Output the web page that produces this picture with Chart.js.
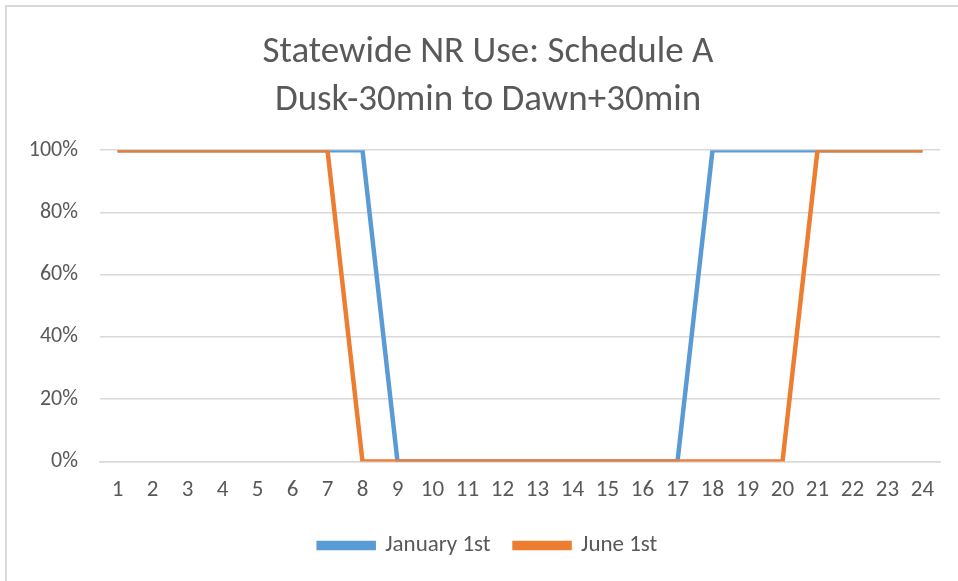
<!DOCTYPE html>
<html>
<head>
<meta charset="utf-8">
<script src="https://cdn.jsdelivr.net/npm/chart.js@4/dist/chart.umd.min.js"></script>
<style>
  body { margin: 0; background: #fff; overflow: hidden; }
  #box {
    position: absolute; left: 5px; top: 5px;
    width: 977px; height: 576px;
    border-left: 2px solid #d9d9d9;
    border-top: 2px solid #d9d9d9;
  }
</style>
</head>
<body>
<div id="box"><canvas id="myChart"></canvas></div>
<script>
// DATA
var ore = ['1','2','3','4','5','6','7','8','9','10','11','12','13','14','15','16','17','18','19','20','21','22','23','24'];
var gennaio = [1,1,1,1,1,1,1,1, 0,0,0,0,0,0,0,0,0, 1,1,1,1,1,1,1];
var giugno = [1,1,1,1,1,1,1, 0,0,0,0,0,0,0,0,0,0,0,0,0, 1,1,1,1];
var titolo = ['Statewide NR Use: Schedule A', 'Dusk-30min to Dawn+30min'];

var font = "Carlito, Lato, 'Open Sans', sans-serif";
Chart.defaults.font.family = font;
Chart.defaults.color = '#595959';

// GRAPH SETTINGS
// canvas is a bit wider than the window (clipped) so title/legend sit where the original has them,
// an empty right axis keeps the plot area inside the window
var ctx = document.getElementById('myChart').getContext('2d');
var myChart = new Chart(ctx, {
  type: 'line',
  data: {
    labels: ore,
    datasets: [{
      label: 'January 1st',
      data: gennaio,
      borderColor: '#5B9BD5',
      backgroundColor: '#5B9BD5',
      borderWidth: 4.5,
      pointRadius: 0,
      tension: 0,
      order: 1
    }, {
      // june drawn on top, like the original
      label: 'June 1st',
      data: giugno,
      borderColor: '#ED7D31',
      backgroundColor: '#ED7D31',
      borderWidth: 4.5,
      pointRadius: 0,
      tension: 0,
      order: 0
    }]
  },
  options: {
    responsive: true,
    maintainAspectRatio: false,
    animation: false,
    layout: { padding: { left: 4, right: 19, top: 0, bottom: 16 } },
    plugins: {
      title: {
        display: true,
        text: titolo,
        font: { size: 37, weight: 'normal', lineHeight: 1.3 },
        color: '#595959',
        padding: { top: 22, bottom: 25 }
      },
      legend: {
        position: 'bottom',
        labels: {
          boxWidth: 55,
          boxHeight: 5,
          padding: 24,
          font: { size: 23 },
          color: '#595959',
          sort: function (a, b) { return a.datasetIndex - b.datasetIndex; }
        }
      },
      tooltip: { enabled: false }
    },
    scales: {
      x: {
        offset: true,
        grid: { display: false },
        border: { color: '#d9d9d9', width: 1.5 },
        ticks: { font: { size: 23 }, color: '#595959', padding: 7, maxRotation: 0, autoSkip: false },
        afterFit: function (scale) { scale.height = scale.height - 1; }
      },
      y: {
        min: 0,
        max: 1,
        border: { display: false },
        grid: { color: '#d9d9d9', lineWidth: 1.5, drawTicks: false },
        ticks: {
          stepSize: 0.2,
          font: { size: 22 },
          color: '#595959',
          padding: 22,
          callback: function (v) { return Math.round(v * 100) + '%'; }
        },
        afterFit: function (scale) { scale.width = 89; }
      },
      spazio: {
        position: 'right',
        min: 0,
        max: 1,
        border: { display: false },
        grid: { display: false },
        ticks: { display: false },
        afterFit: function (scale) { scale.width = 25; }
      }
    }
  }
});
</script>
</body>
</html>
